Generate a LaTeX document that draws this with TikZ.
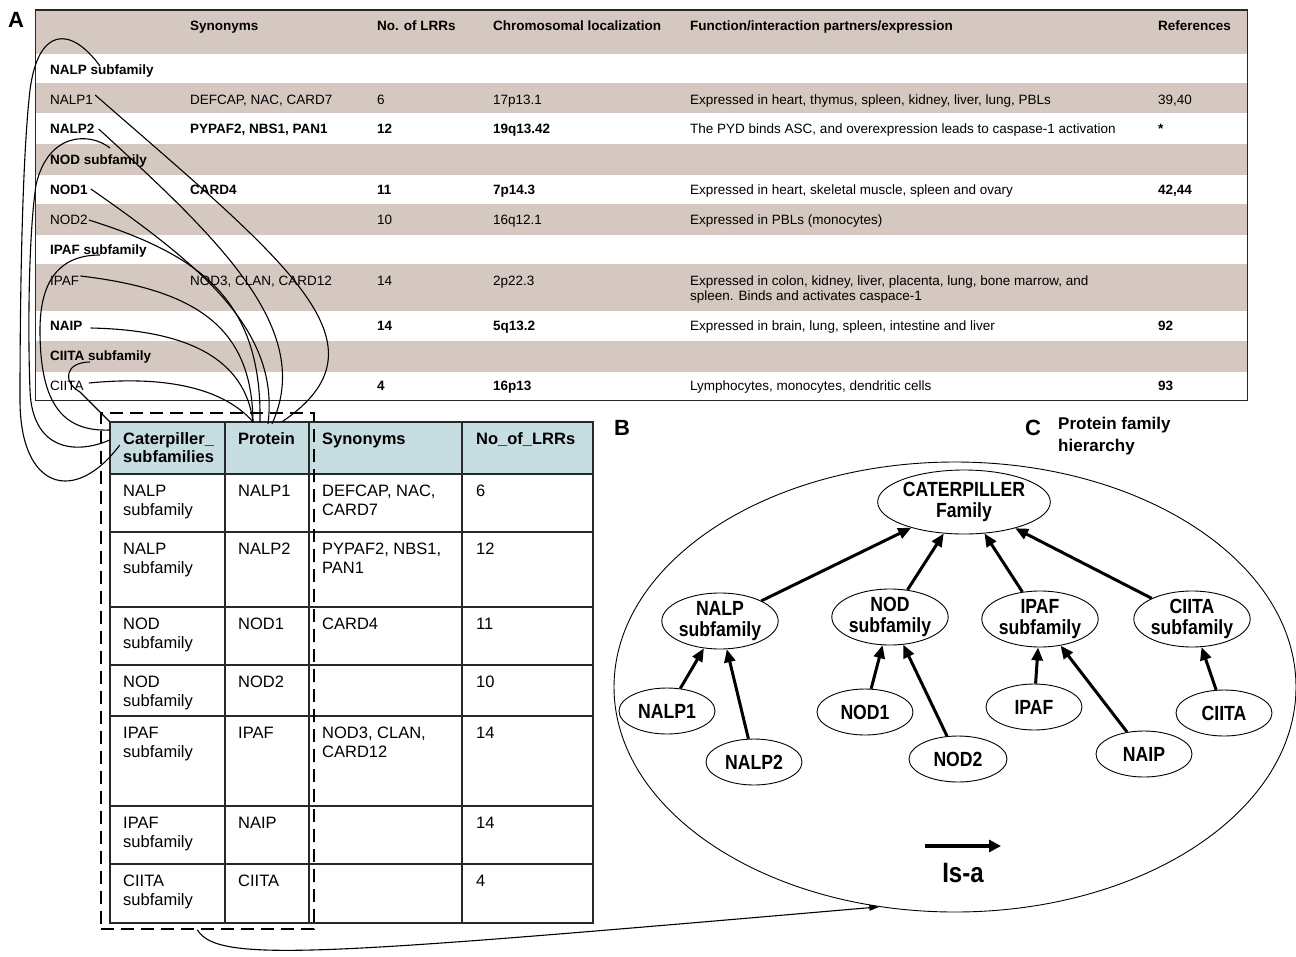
\documentclass[tikz,border=0pt]{standalone}
\usepackage{fontspec}
\setmainfont{Liberation Sans}
\newfontfamily\condfont[FakeStretch=0.86]{Liberation Sans}
\usetikzlibrary{shapes.geometric,arrows.meta,calc}
\definecolor{rowshade}{RGB}{213,200,192}
\definecolor{headblue}{RGB}{198,221,225}
\definecolor{rulegray}{RGB}{40,40,40}
\newcommand\tsz{\fontsize{13.5}{15}\selectfont}
\newcommand\lsz{\fontsize{16.5}{19.5}\selectfont}
\newcommand\hsz{\condfont\fontsize{20.5}{20.5}\selectfont\bfseries}
\begin{document}
\begin{tikzpicture}[x=1pt,y=-1pt,
  tt/.style={font=\tsz, inner sep=0pt, anchor=west, text height=9.7pt, text depth=0pt},
  tb/.style={tt, font=\tsz\bfseries},
  lt/.style={font=\lsz, inner sep=0pt, anchor=west, text height=11.8pt, text depth=0pt},
  lb/.style={lt, font=\lsz\bfseries},
  cellarea/.style={inner sep=0pt, draw=none},
  wire/.style={line width=1.1pt, black},
  hn/.style={draw, ellipse, line width=0.9pt, inner sep=0pt, font=\hsz, align=center},
  isa/.style={line width=3pt, -{Triangle[length=13pt,width=11pt]}},
  panel/.style={font=\fontsize{22}{24}\selectfont\bfseries, inner sep=0pt},
]
\useasboundingbox (0,0) rectangle (1296,956);

% ---------- Table A: shaded rows and frame ----------
\fill[rowshade] (36,10) rectangle (1247,54);
\fill[rowshade] (36,83) rectangle (1247,113);
\fill[rowshade] (36,144) rectangle (1247,175);
\fill[rowshade] (36,204) rectangle (1247,235);
\fill[rowshade] (36,264) rectangle (1247,311);
\fill[rowshade] (36,341) rectangle (1247,372);
\draw[rulegray, line width=1.6pt] (35.5,10) rectangle (1247.5,400.5);
\node[panel] (lblA) at (16,20) {A};

% header
\node[tb] (thSyn) at (190,26) {Synonyms};
\node[tb] (thLrr) at (377,26) {No. of LRRs};
\node[tb] (thChr) at (493,26) {Chromosomal localization};
\node[tb] (thFun) at (690,26) {Function/interaction partners/expression};
\node[tb] (thRef) at (1158,26) {References};

% rows
\node[tb] (tNALPs) at (50,70) {NALP subfamily};

\node[tt] (tNALP1) at (50,100) {NALP1};
\node[tt] (tNALP1s) at (190,100) {DEFCAP, NAC, CARD7};
\node[tt] (tNALP1n) at (377,100) {6};
\node[tt] (tNALP1c) at (493,100) {17p13.1};
\node[tt] (tNALP1f) at (690,100) {Expressed in heart, thymus, spleen, kidney, liver, lung, PBLs};
\node[tt] (tNALP1r) at (1158,100) {39,40};

\node[tb] (tNALP2) at (50,129) {NALP2};
\node[tb] (tNALP2s) at (190,129) {PYPAF2, NBS1, PAN1};
\node[tb] (tNALP2n) at (377,129) {12};
\node[tb] (tNALP2c) at (493,129) {19q13.42};
\node[tt] (tNALP2f) at (690,129) {The PYD binds ASC, and overexpression leads to caspase-1 activation};
\node[tb] (tNALP2r) at (1158,129) {*};

\node[tb] (tNODs) at (50,160) {NOD subfamily};

\node[tb] (tNOD1) at (50,190) {NOD1};
\node[tb] (tNOD1s) at (190,190) {CARD4};
\node[tb] (tNOD1n) at (377,190) {11};
\node[tb] (tNOD1c) at (493,190) {7p14.3};
\node[tt] (tNOD1f) at (690,190) {Expressed in heart, skeletal muscle, spleen and ovary};
\node[tb] (tNOD1r) at (1158,190) {42,44};

\node[tt] (tNOD2) at (50,220) {NOD2};
\node[tt] (tNOD2n) at (377,220) {10};
\node[tt] (tNOD2c) at (493,220) {16q12.1};
\node[tt] (tNOD2f) at (690,220) {Expressed in PBLs (monocytes)};

\node[tb] (tIPAFs) at (50,250) {IPAF subfamily};

\node[tt] (tIPAF) at (50,281) {IPAF};
\node[tt] (tIPAFs2) at (190,281) {NOD3, CLAN, CARD12};
\node[tt] (tIPAFn) at (377,281) {14};
\node[tt] (tIPAFc) at (493,281) {2p22.3};
\node[tt] (tIPAFf) at (690,281) {Expressed in colon, kidney, liver, placenta, lung, bone marrow, and};
\node[tt] (tIPAFg) at (690,296) {spleen. Binds and activates caspace-1};

\node[tb] (tNAIP) at (50,326) {NAIP};
\node[tb] (tNAIPn) at (377,326) {14};
\node[tb] (tNAIPc) at (493,326) {5q13.2};
\node[tt] (tNAIPf) at (690,326) {Expressed in brain, lung, spleen, intestine and liver};
\node[tb] (tNAIPr) at (1158,326) {92};

\node[tb] (tCIITAs) at (50,356) {CIITA subfamily};

\node[tt] (tCIITA) at (50,386) {CIITA};
\node[tb] (tCIITAn) at (377,386) {4};
\node[tb] (tCIITAc) at (493,386) {16p13};
\node[tt] (tCIITAf) at (690,386) {Lymphocytes, monocytes, dendritic cells};
\node[tb] (tCIITAr) at (1158,386) {93};

% ---------- Derived table ----------
\fill[headblue] (110,422) rectangle (593,474);
\node[cellarea, minimum width=115pt, minimum height=52pt] (hCat) at (167.5,448) {};
\node[cellarea, minimum width=84pt, minimum height=52pt] (hProt) at (267,448) {};
\draw[rulegray, line width=1.3pt] (110,422) rectangle (593,923);
\foreach \yy in {474,532,607,665,716,806,864}
  \draw[rulegray, line width=1.3pt] (110,\yy) -- (593,\yy);
\foreach \xx in {225,309,462}
  \draw[rulegray, line width=1.3pt] (\xx,422) -- (\xx,923);

\node[lb] (hCatA) at (123,439) {Caterpiller\_};
\node[lb] (hCatB) at (123,457) {subfamilies};
\node[lb] (hProtT) at (238,439) {Protein};
\node[lb] (hSynT) at (322,439) {Synonyms};
\node[lb] (hLrrT) at (476,439) {No\_of\_LRRs};

\node[lt] (r1a) at (123,491) {NALP};
\node[lt] (r1b) at (123,510) {subfamily};
\node[lt] (r1p) at (238,491) {NALP1};
\node[lt] (r1s) at (322,491) {DEFCAP, NAC,};
\node[lt] (r1t) at (322,510) {CARD7};
\node[lt] (r1n) at (476,491) {6};

\node[lt] (r2a) at (123,549) {NALP};
\node[lt] (r2b) at (123,568) {subfamily};
\node[lt] (r2p) at (238,549) {NALP2};
\node[lt] (r2s) at (322,549) {PYPAF2, NBS1,};
\node[lt] (r2t) at (322,568) {PAN1};
\node[lt] (r2n) at (476,549) {12};

\node[lt] (r3a) at (123,624) {NOD};
\node[lt] (r3b) at (123,643) {subfamily};
\node[lt] (r3p) at (238,624) {NOD1};
\node[lt] (r3s) at (322,624) {CARD4};
\node[lt] (r3n) at (476,624) {11};

\node[lt] (r4a) at (123,682) {NOD};
\node[lt] (r4b) at (123,701) {subfamily};
\node[lt] (r4p) at (238,682) {NOD2};
\node[lt] (r4n) at (476,682) {10};

\node[lt] (r5a) at (123,733) {IPAF};
\node[lt] (r5b) at (123,752) {subfamily};
\node[lt] (r5p) at (238,733) {IPAF};
\node[lt] (r5s) at (322,733) {NOD3, CLAN,};
\node[lt] (r5t) at (322,752) {CARD12};
\node[lt] (r5n) at (476,733) {14};

\node[lt] (r6a) at (123,823) {IPAF};
\node[lt] (r6b) at (123,842) {subfamily};
\node[lt] (r6p) at (238,823) {NAIP};
\node[lt] (r6n) at (476,823) {14};

\node[lt] (r7a) at (123,881) {CIITA};
\node[lt] (r7b) at (123,900) {subfamily};
\node[lt] (r7p) at (238,881) {CIITA};
\node[lt] (r7n) at (476,881) {4};

% selected columns
\node[draw, dash pattern=on 13pt off 7pt, line width=1.8pt, minimum width=213pt,
      minimum height=516pt, inner sep=0pt, anchor=north west] (sel) at (100,412) {};

% ---------- mapping links ----------
\draw[wire] ($(tNALPs.west)+(50,-4)$) .. controls (70,25) and (38,28) .. (30,90)
  .. controls (22,160) and (20,300) .. (20,400)
  .. controls (20,490) and (75,505) .. ($(hCat.west)+(10,-3)$);
\draw[wire] ($(tNODs.west)+(60,-12)$) .. controls (90,132) and (48,132) .. (36,185)
  .. controls (28,240) and (28,340) .. (30,390)
  .. controls (32,450) and (75,455) .. ($(hCat.west)+(0,-8)$);
\draw[wire] ($(tIPAFs.west)+(50,5)$) .. controls (60,255) and (40,280) .. (40,330)
  .. controls (40,400) and (60,432) .. ($(hCat.west)+(0,-18)$);
\draw[wire] ($(tCIITAs.west)+(40,6)$) .. controls (65,362) and (62,382) .. (80,392)
  -- (hCat.north west);

\draw[wire] ($(tNALP1.east)+(2,-5)$) .. controls (290,265) and (395,345) .. ($(hProt.north)+(15,0)$);
\draw[wire] ($(tNALP2.east)+(4,0)$) .. controls (220,240) and (315,330) .. ($(hProt.north)+(5,2)$);
\draw[wire] ($(tNOD1.east)+(3,-1)$) .. controls (200,265) and (280,330) .. ($(hProt.north)+(1,2)$);
\draw[wire] ($(tNOD2.east)+(1,0)$) .. controls (200,255) and (262,300) .. ($(hProt.north)+(-7,0)$);
\draw[wire] ($(tIPAF.east)+(1,-5)$) .. controls (200,290) and (252,330) .. ($(hProt.north)+(-14,0)$);
\draw[wire] ($(tNAIP.east)+(8,2)$) .. controls (190,330) and (245,360) .. ($(hProt.north)+(-14,0)$);
\draw[wire] ($(tCIITA.east)+(5,-3)$) .. controls (170,375) and (225,390) .. ($(hProt.north)+(-14,0)$);

% ---------- Hierarchy ----------
\node[panel] (lblB) at (622,428) {B};
\node[panel] (lblC) at (1033,428) {C};
\node[font=\fontsize{17}{22}\selectfont\bfseries, align=left, anchor=north west, inner sep=0pt]
  (title) at (1058,417) {Protein family\\hierarchy};

\node[draw, ellipse, line width=0.9pt, minimum width=682pt, minimum height=450pt, inner sep=0pt]
  (cbig) at (955,687) {};

\node[hn, minimum width=160pt, minimum height=64pt] (cat) at (964,502) {CATERPILLER\\Family};
\node[hn, minimum width=112pt, minimum height=56pt] (sNALP) at (720,621) {NALP\\subfamily};
\node[hn, minimum width=110pt, minimum height=56pt] (sNOD) at (890,617) {NOD\\subfamily};
\node[hn, minimum width=106pt, minimum height=56pt] (sIPAF) at (1040,619) {IPAF\\subfamily};
\node[hn, minimum width=108pt, minimum height=56pt] (sCIITA) at (1192,619) {CIITA\\subfamily};

\node[hn, minimum width=96pt, minimum height=46pt] (pNALP1) at (667,711) {NALP1};
\node[hn, minimum width=96pt, minimum height=46pt] (pNALP2) at (754,762) {NALP2};
\node[hn, minimum width=96pt, minimum height=46pt] (pNOD1) at (865,712) {NOD1};
\node[hn, minimum width=98pt, minimum height=46pt] (pNOD2) at (958,759) {NOD2};
\node[hn, minimum width=96pt, minimum height=46pt] (pIPAF) at (1034,707) {IPAF};
\node[hn, minimum width=96pt, minimum height=46pt] (pNAIP) at (1144,754) {NAIP};
\node[hn, minimum width=96pt, minimum height=46pt] (pCIITA) at (1224,713) {CIITA};

\draw[isa] (sNALP) -- (cat);
\draw[isa] (sNOD) -- (cat);
\draw[isa] (sIPAF) -- (cat);
\draw[isa] (sCIITA) -- (cat);
\draw[isa] (pNALP1) -- (sNALP);
\draw[isa] (pNALP2) -- (sNALP);
\draw[isa] (pNOD1) -- (sNOD);
\draw[isa] (pNOD2) -- (sNOD);
\draw[isa] (pIPAF) -- (sIPAF);
\draw[isa] (pNAIP) -- (sIPAF);
\draw[isa] (pCIITA) -- (sCIITA);

% legend
\coordinate (isaA) at (925,846);
\coordinate (isaB) at (1001,846);
\draw[line width=4pt, -{Triangle[length=12pt,width=12pt]}] (isaA) -- (isaB);
\node[font=\condfont\fontsize{28}{30}\selectfont\bfseries, inner sep=0pt] (isaT) at (963,873) {Is-a};

% selection to hierarchy
\draw[wire, -{Triangle[length=10pt,width=6pt]}] ($(sel.south)+(-10,0)$)
  .. controls +(20,34) and (320,955) .. (cbig.251);
\end{tikzpicture}
\end{document}
